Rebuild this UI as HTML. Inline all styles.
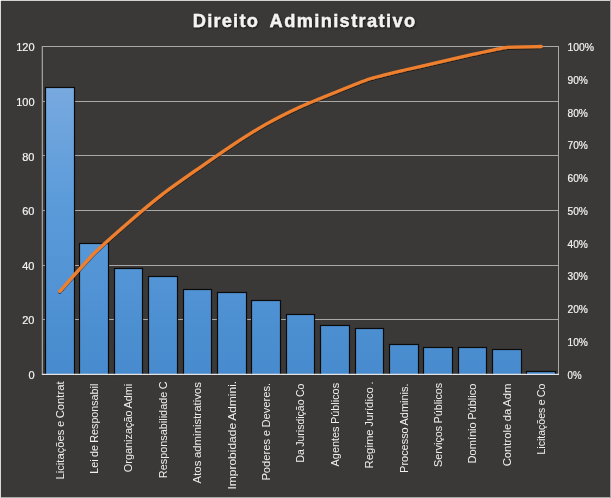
<!DOCTYPE html>
<html><head><meta charset="utf-8"><title>Direito Administrativo</title>
<style>
html,body{margin:0;padding:0;background:#3b3937;}
body{width:611px;height:498px;overflow:hidden;font-family:"Liberation Sans",sans-serif;}
svg{display:block}
text{font-family:"Liberation Sans",sans-serif;}
</style></head><body>
<svg width="611" height="498" viewBox="0 0 611 498">
<defs>
<linearGradient id="bg" gradientUnits="userSpaceOnUse" x1="0" y1="87" x2="0" y2="375">
<stop offset="0" stop-color="#78a9df"/><stop offset="0.4" stop-color="#5b9bda"/><stop offset="1" stop-color="#478bce"/>
</linearGradient>
<filter id="ts" x="-5%" y="-30%" width="110%" height="170%"><feDropShadow dx="0.6" dy="1" stdDeviation="0.8" flood-color="#000" flood-opacity="0.7"/></filter>
<filter id="ls" x="-5%" y="-5%" width="110%" height="110%"><feDropShadow dx="0" dy="1" stdDeviation="0.7" flood-color="#000" flood-opacity="0.55"/></filter>
</defs>
<!-- frame -->
<rect x="0" y="0" width="611" height="498" fill="#aaa9a9"/>
<rect x="0" y="0" width="610" height="1" fill="#d3d3d3"/>
<rect x="0" y="0" width="1" height="498" fill="#d9d9d9"/>
<rect x="0" y="0" width="1" height="1" fill="#fafafa"/>
<rect x="1" y="1" width="609" height="496" fill="#3b3937"/>

<line x1="42.0" y1="319.50" x2="558.5" y2="319.50" stroke="#a9a8a6" stroke-width="1"/>
<line x1="42.0" y1="265.50" x2="558.5" y2="265.50" stroke="#a9a8a6" stroke-width="1"/>
<line x1="42.0" y1="210.50" x2="558.5" y2="210.50" stroke="#a9a8a6" stroke-width="1"/>
<line x1="42.0" y1="155.50" x2="558.5" y2="155.50" stroke="#a9a8a6" stroke-width="1"/>
<line x1="42.0" y1="101.50" x2="558.5" y2="101.50" stroke="#a9a8a6" stroke-width="1"/>
<line x1="42.0" y1="46.50" x2="558.5" y2="46.50" stroke="#a9a8a6" stroke-width="1"/>
<line x1="42.35" y1="46.0" x2="42.35" y2="375.0" stroke="#a3a2a0" stroke-width="1.25"/>
<line x1="558.5" y1="46.0" x2="558.5" y2="375.0" stroke="#a9a8a6" stroke-width="1"/>
<rect x="45.50" y="87.50" width="29.00" height="288.00" fill="url(#bg)" stroke="#0a0a0a" stroke-width="1.2"/>
<rect x="79.50" y="243.50" width="29.00" height="132.00" fill="url(#bg)" stroke="#0a0a0a" stroke-width="1.2"/>
<rect x="114.50" y="268.50" width="28.00" height="107.00" fill="url(#bg)" stroke="#0a0a0a" stroke-width="1.2"/>
<rect x="148.50" y="276.50" width="29.00" height="99.00" fill="url(#bg)" stroke="#0a0a0a" stroke-width="1.2"/>
<rect x="183.50" y="289.50" width="28.00" height="86.00" fill="url(#bg)" stroke="#0a0a0a" stroke-width="1.2"/>
<rect x="217.50" y="292.50" width="29.00" height="83.00" fill="url(#bg)" stroke="#0a0a0a" stroke-width="1.2"/>
<rect x="251.50" y="300.50" width="29.00" height="75.00" fill="url(#bg)" stroke="#0a0a0a" stroke-width="1.2"/>
<rect x="286.50" y="314.50" width="28.00" height="61.00" fill="url(#bg)" stroke="#0a0a0a" stroke-width="1.2"/>
<rect x="320.50" y="325.50" width="29.00" height="50.00" fill="url(#bg)" stroke="#0a0a0a" stroke-width="1.2"/>
<rect x="355.50" y="328.50" width="28.00" height="47.00" fill="url(#bg)" stroke="#0a0a0a" stroke-width="1.2"/>
<rect x="389.50" y="344.50" width="29.00" height="31.00" fill="url(#bg)" stroke="#0a0a0a" stroke-width="1.2"/>
<rect x="423.50" y="347.50" width="29.00" height="28.00" fill="url(#bg)" stroke="#0a0a0a" stroke-width="1.2"/>
<rect x="458.50" y="347.50" width="28.00" height="28.00" fill="url(#bg)" stroke="#0a0a0a" stroke-width="1.2"/>
<rect x="492.50" y="349.50" width="29.00" height="26.00" fill="url(#bg)" stroke="#0a0a0a" stroke-width="1.2"/>
<rect x="526.50" y="371.50" width="29.00" height="4.00" fill="url(#bg)" stroke="#0a0a0a" stroke-width="1.2"/>
<line x1="42.0" y1="374.4" x2="559.0" y2="374.4" stroke="#e4e4e4" stroke-width="1.3"/>
<rect x="41.5" y="375.05" width="517.5" height="1.6" fill="#3b3937"/>
<path d="M59.70,291.31 C62.57,288.14 88.37,259.03 94.10,253.28 C99.83,247.54 122.77,227.34 128.50,222.38 C134.23,217.43 157.17,198.29 162.90,193.86 C168.63,189.44 191.57,173.33 197.30,169.30 C203.03,165.27 225.97,149.30 231.70,145.53 C237.43,141.77 260.37,127.38 266.10,124.14 C271.83,120.91 294.77,109.35 300.50,106.71 C306.23,104.07 329.17,94.76 334.90,92.45 C340.63,90.14 363.57,80.83 369.30,78.98 C375.03,77.13 397.97,71.65 403.70,70.27 C409.43,68.88 432.37,63.67 438.10,62.35 C443.83,61.02 466.77,55.68 472.50,54.42 C478.23,53.17 501.17,47.95 506.90,47.29 C512.63,46.63 538.43,46.57 541.30,46.50" fill="none" stroke="#ee7f2f" stroke-width="3.3" stroke-linecap="round" stroke-linejoin="round" filter="url(#ls)"/>
<g style="opacity:0.999">
<g filter="url(#ts)" font-size="18.2" font-weight="bold" fill="#f4f4f4" stroke="#f4f4f4" stroke-width="0.35">
<text x="192.8" y="26.5" textLength="65" lengthAdjust="spacing">Direito</text>
<text x="269.6" y="26.5" textLength="145.5" lengthAdjust="spacing">Administrativo</text>
</g>
<text x="34.5" y="379.40" text-anchor="end" font-size="11" fill="#f4f4f4" stroke="#f4f4f4" stroke-width="0.2">0</text>
<text x="34.5" y="323.73" text-anchor="end" font-size="11" fill="#f4f4f4" stroke="#f4f4f4" stroke-width="0.2">20</text>
<text x="34.5" y="270.07" text-anchor="end" font-size="11" fill="#f4f4f4" stroke="#f4f4f4" stroke-width="0.2">40</text>
<text x="34.5" y="215.40" text-anchor="end" font-size="11" fill="#f4f4f4" stroke="#f4f4f4" stroke-width="0.2">60</text>
<text x="34.5" y="160.73" text-anchor="end" font-size="11" fill="#f4f4f4" stroke="#f4f4f4" stroke-width="0.2">80</text>
<text x="34.5" y="106.07" text-anchor="end" font-size="11" fill="#f4f4f4" stroke="#f4f4f4" stroke-width="0.2">100</text>
<text x="34.5" y="51.40" text-anchor="end" font-size="11" fill="#f4f4f4" stroke="#f4f4f4" stroke-width="0.2">120</text>
<text x="567.5" y="379.40" font-size="11" fill="#f4f4f4" stroke="#f4f4f4" stroke-width="0.2" textLength="14.0" lengthAdjust="spacingAndGlyphs">0%</text>
<text x="567.5" y="345.60" font-size="11" fill="#f4f4f4" stroke="#f4f4f4" stroke-width="0.2" textLength="20.4" lengthAdjust="spacingAndGlyphs">10%</text>
<text x="567.5" y="312.80" font-size="11" fill="#f4f4f4" stroke="#f4f4f4" stroke-width="0.2" textLength="20.4" lengthAdjust="spacingAndGlyphs">20%</text>
<text x="567.5" y="280.00" font-size="11" fill="#f4f4f4" stroke="#f4f4f4" stroke-width="0.2" textLength="20.4" lengthAdjust="spacingAndGlyphs">30%</text>
<text x="567.5" y="248.20" font-size="11" fill="#f4f4f4" stroke="#f4f4f4" stroke-width="0.2" textLength="20.4" lengthAdjust="spacingAndGlyphs">40%</text>
<text x="567.5" y="215.40" font-size="11" fill="#f4f4f4" stroke="#f4f4f4" stroke-width="0.2" textLength="20.4" lengthAdjust="spacingAndGlyphs">50%</text>
<text x="567.5" y="181.60" font-size="11" fill="#f4f4f4" stroke="#f4f4f4" stroke-width="0.2" textLength="20.4" lengthAdjust="spacingAndGlyphs">60%</text>
<text x="567.5" y="148.80" font-size="11" fill="#f4f4f4" stroke="#f4f4f4" stroke-width="0.2" textLength="20.4" lengthAdjust="spacingAndGlyphs">70%</text>
<text x="567.5" y="117.00" font-size="11" fill="#f4f4f4" stroke="#f4f4f4" stroke-width="0.2" textLength="20.4" lengthAdjust="spacingAndGlyphs">80%</text>
<text x="567.5" y="84.20" font-size="11" fill="#f4f4f4" stroke="#f4f4f4" stroke-width="0.2" textLength="20.4" lengthAdjust="spacingAndGlyphs">90%</text>
<text x="567.5" y="51.40" font-size="11" fill="#f4f4f4" stroke="#f4f4f4" stroke-width="0.2" textLength="26.6" lengthAdjust="spacingAndGlyphs">100%</text>
<text transform="translate(63.50,381.40) rotate(-90)" text-anchor="end" font-size="11.3" fill="#f0f0f0" word-spacing="-0.6" textLength="98.20" lengthAdjust="spacingAndGlyphs">Licitações e Contrat</text>
<text transform="translate(97.90,383.70) rotate(-90)" text-anchor="end" font-size="11.3" fill="#f0f0f0" word-spacing="-0.6" textLength="90.00" lengthAdjust="spacingAndGlyphs">Lei de Responsabil</text>
<text transform="translate(132.30,383.70) rotate(-90)" text-anchor="end" font-size="11.3" fill="#f0f0f0" word-spacing="-0.6" textLength="88.50" lengthAdjust="spacingAndGlyphs">Organização Admi</text>
<text transform="translate(166.70,381.40) rotate(-90)" text-anchor="end" font-size="11.3" fill="#f0f0f0" word-spacing="-0.6" textLength="96.80" lengthAdjust="spacingAndGlyphs">Responsabilidade C</text>
<text transform="translate(201.10,382.10) rotate(-90)" text-anchor="end" font-size="11.3" fill="#f0f0f0" word-spacing="-0.6" textLength="101.30" lengthAdjust="spacingAndGlyphs">Atos administrativos</text>
<text transform="translate(235.50,380.80) rotate(-90)" text-anchor="end" font-size="11.3" fill="#f0f0f0" word-spacing="-0.6" textLength="108.80" lengthAdjust="spacingAndGlyphs">Improbidade Admini.</text>
<text transform="translate(269.90,382.80) rotate(-90)" text-anchor="end" font-size="11.3" fill="#f0f0f0" word-spacing="-0.6" textLength="97.80" lengthAdjust="spacingAndGlyphs">Poderes e Deveres.</text>
<text transform="translate(304.30,383.70) rotate(-90)" text-anchor="end" font-size="11.3" fill="#f0f0f0" word-spacing="-0.6" textLength="78.80" lengthAdjust="spacingAndGlyphs">Da Jurisdição Co</text>
<text transform="translate(338.70,382.90) rotate(-90)" text-anchor="end" font-size="11.3" fill="#f0f0f0" word-spacing="-0.6" textLength="83.50" lengthAdjust="spacingAndGlyphs">Agentes Públicos</text>
<text transform="translate(373.10,381.40) rotate(-90)" text-anchor="end" font-size="11.3" fill="#f0f0f0" word-spacing="-0.6" textLength="87.00" lengthAdjust="spacingAndGlyphs">Regime Jurídico .</text>
<text transform="translate(407.50,383.50) rotate(-90)" text-anchor="end" font-size="11.3" fill="#f0f0f0" word-spacing="-0.6" textLength="89.40" lengthAdjust="spacingAndGlyphs">Processo Adminis.</text>
<text transform="translate(441.90,382.90) rotate(-90)" text-anchor="end" font-size="11.3" fill="#f0f0f0" word-spacing="-0.6" textLength="84.10" lengthAdjust="spacingAndGlyphs">Serviços Públicos</text>
<text transform="translate(476.30,383.70) rotate(-90)" text-anchor="end" font-size="11.3" fill="#f0f0f0" word-spacing="-0.6" textLength="79.70" lengthAdjust="spacingAndGlyphs">Domínio Público</text>
<text transform="translate(510.70,383.70) rotate(-90)" text-anchor="end" font-size="11.3" fill="#f0f0f0" word-spacing="-0.6" textLength="82.60" lengthAdjust="spacingAndGlyphs">Controle da Adm</text>
<text transform="translate(545.10,383.70) rotate(-90)" text-anchor="end" font-size="11.3" fill="#f0f0f0" word-spacing="-0.6" textLength="70.80" lengthAdjust="spacingAndGlyphs">Licitações e Co</text>
</g>
</svg></body></html>
